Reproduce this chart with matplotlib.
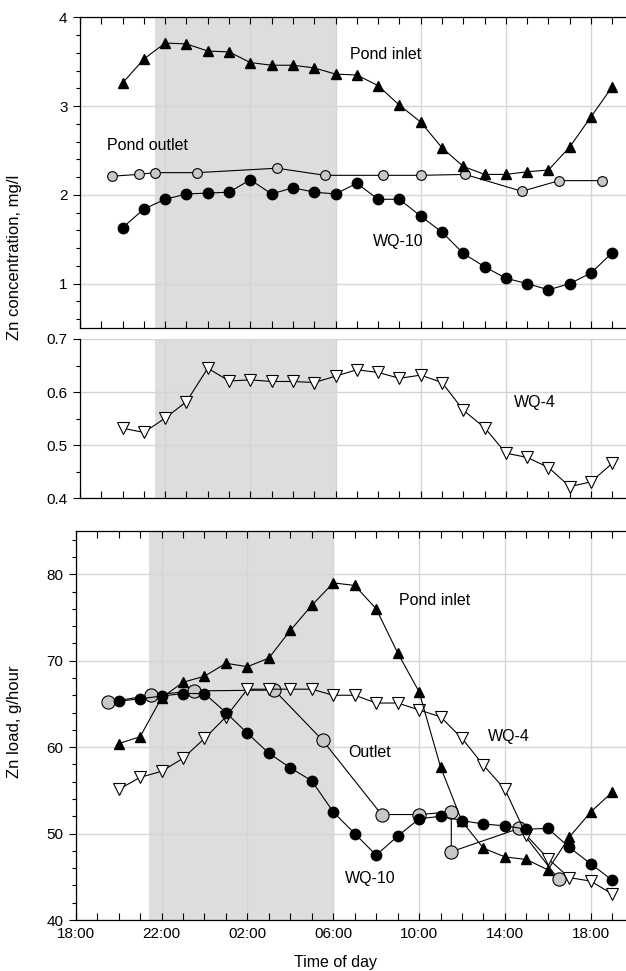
import matplotlib.pyplot as plt
from matplotlib.ticker import MultipleLocator, FixedLocator

plt.rcParams['font.family'] = ['Liberation Sans', 'DejaVu Sans']

# sampling times (clock time, the series runs from evening to the next evening)
hourly_times = ['20:00', '21:00', '22:00', '23:00', '00:00', '01:00', '02:00', '03:00',
                '04:00', '05:00', '06:00', '07:00', '08:00', '09:00', '10:00', '11:00',
                '12:00', '13:00', '14:00', '15:00', '16:00', '17:00', '18:00', '19:00']

# Zn concentration, mg/l
inlet_conc = [3.26, 3.53, 3.71, 3.70, 3.62, 3.61, 3.49, 3.46, 3.46, 3.43, 3.36, 3.35,
              3.23, 3.01, 2.82, 2.53, 2.32, 2.23, 2.23, 2.26, 2.28, 2.54, 2.88, 3.22]
wq10_conc = [1.63, 1.84, 1.95, 2.01, 2.02, 2.03, 2.17, 2.01, 2.08, 2.03, 2.01, 2.13,
             1.95, 1.95, 1.76, 1.58, 1.34, 1.19, 1.06, 1.00, 0.93, 1.00, 1.12, 1.35]
outlet_conc_times = ['19:30', '20:45', '21:30', '23:30', '03:15', '05:30',
                     '08:15', '10:00', '12:05', '14:45', '16:30', '18:30']
outlet_conc = [2.21, 2.23, 2.25, 2.25, 2.30, 2.22, 2.22, 2.22, 2.23, 2.04, 2.16, 2.16]
wq4_conc = [0.532, 0.524, 0.551, 0.582, 0.645, 0.621, 0.623, 0.620, 0.620, 0.618, 0.630, 0.642,
            0.637, 0.626, 0.632, 0.618, 0.566, 0.533, 0.485, 0.477, 0.458, 0.422, 0.431, 0.466]

# Zn load, g/hour
inlet_load = [60.4, 61.2, 65.7, 67.5, 68.2, 69.7, 69.3, 70.3, 73.5, 76.4, 79.0, 78.7,
              76.0, 70.9, 66.4, 57.7, 51.4, 48.3, 47.3, 47.0, 45.8, 49.6, 52.5, 54.8]
wq10_load = [65.3, 65.6, 65.9, 66.2, 66.2, 64.0, 61.6, 59.3, 57.6, 56.1, 52.5, 50.0,
             47.5, 49.7, 51.7, 52.0, 51.5, 51.1, 50.9, 50.5, 50.6, 48.4, 46.5, 44.6]
wq4_load = [55.1, 56.5, 57.2, 58.7, 61.0, 63.5, 66.7, 66.7, 66.7, 66.7, 66.0, 66.0,
            65.1, 65.1, 64.3, 63.5, 61.0, 57.9, 55.1, 49.8, 47.1, 44.9, 44.5, 43.0]
outlet_load_times = ['19:30', '21:30', '23:30', '03:15', '05:30', '08:15',
                     '10:00', '11:30', '11:30', '14:40', '16:30']
outlet_load = [65.2, 66.0, 66.5, 66.6, 60.8, 52.2, 52.2, 52.5, 47.9, 50.6, 44.7]

tick_labels = ['18:00', '22:00', '02:00', '06:00', '10:00', '14:00', '18:00']
night = ['21:30', '06:00']


def to_hours(times):
    # hours after 18:00 of the first day
    out = []
    prev = -1
    for t in times:
        hh, mm = t.split(':')
        h = int(hh) + int(mm) / 60 - 18
        if h < 0:
            h += 24
        while h < prev:
            h += 24
        out.append(h)
        prev = h
    return out


xh = to_hours(hourly_times)
x_out_c = to_hours(outlet_conc_times)
x_out_l = to_hours(outlet_load_times)
night_h = to_hours(night)

fig = plt.figure(figsize=(6.26, 9.71), dpi=100)
W, H = 626, 971
ax1 = fig.add_axes([80 / W, 1 - 328 / H, 546 / W, 310.7 / H])
ax2 = fig.add_axes([80 / W, 1 - 498.3 / H, 546 / W, 159.3 / H])
ax3 = fig.add_axes([75.7 / W, 1 - 920 / H, 550.3 / W, 389 / H])

grid_c = '#d5d5d5'
shade_c = '#dcdddf'

for ax in (ax1, ax2, ax3):
    ax.set_xlim(0, 25.64)
    ax.xaxis.set_major_locator(FixedLocator([0, 4, 8, 12, 16, 20, 24]))
    ax.xaxis.set_minor_locator(MultipleLocator(1))
    ax.spines['right'].set_visible(False)
    ax.set_axisbelow(True)
    ax.grid(which='major', color=grid_c, lw=1.0)
    ax.tick_params(axis='x', which='both', direction='in', length=5, width=0.8,
                   top=True, labelbottom=False)
    ax.tick_params(axis='y', which='major', direction='out', length=5, width=0.8,
                   labelsize=11, pad=4)
    ax.tick_params(axis='y', which='minor', direction='out', length=3, width=0.8)
    for s in ax.spines.values():
        s.set_linewidth(0.9)

ax1.axvspan(night_h[0], night_h[1], color=shade_c, lw=0, zorder=0.1)
ax2.axvspan(night_h[0], night_h[1], color=shade_c, lw=0, zorder=0.1)
ax3.axvspan(night_h[0] - 0.1, night_h[1], color=shade_c, lw=0, zorder=0.1)

lw = 0.8
# top panel
ax1.plot(xh, inlet_conc, '-^', color='black', lw=lw, ms=7.5, zorder=5)
ax1.plot(x_out_c, outlet_conc, '-o', color='black', lw=lw, ms=7, mfc='#c8c8c8',
         mec='black', mew=0.8, zorder=4)
ax1.plot(xh, wq10_conc, '-o', color='black', lw=lw, ms=7.5, zorder=5)
ax1.set_ylim(0.5, 4)
ax1.yaxis.set_major_locator(FixedLocator([1, 2, 3, 4]))
ax1.yaxis.set_minor_locator(MultipleLocator(0.2))
ax1.text(12.7, 3.58, 'Pond inlet', fontsize=11.5, va='center')
ax1.text(1.27, 2.56, 'Pond outlet', fontsize=11.5, va='center')
ax1.text(13.75, 1.48, 'WQ-10', fontsize=11.5, va='center')

# middle panel
ax2.plot(xh, wq4_conc, '-v', color='black', lw=lw, ms=8, mfc='white', mec='black',
         mew=0.8, zorder=5)
ax2.set_ylim(0.4, 0.7)
ax2.spines['top'].set_visible(False)
ax2.tick_params(axis='x', which='both', top=False)
ax2.yaxis.set_major_locator(FixedLocator([0.4, 0.5, 0.6, 0.7]))
ax2.yaxis.set_minor_locator(MultipleLocator(0.05))
ax2.yaxis.set_major_formatter(plt.FuncFormatter(lambda v, p: f'{v:.1f}'))
ax2.text(20.4, 0.581, 'WQ-4', fontsize=11.5, va='center')

# bottom panel
ax3.plot(x_out_l, outlet_load, '-o', color='black', lw=lw, ms=9.5, mfc='#c8c8c8',
         mec='black', mew=0.8, zorder=3)
ax3.plot(xh, wq4_load, '-v', color='black', lw=lw, ms=8, mfc='white', mec='black',
         mew=0.8, zorder=4)
ax3.plot(xh, inlet_load, '-^', color='black', lw=lw, ms=7.5, zorder=5)
ax3.plot(xh, wq10_load, '-o', color='black', lw=lw, ms=7.5, zorder=6)
ax3.set_ylim(40, 85)
ax3.yaxis.set_major_locator(FixedLocator([40, 50, 60, 70, 80]))
ax3.yaxis.set_minor_locator(MultipleLocator(2))
ax3.tick_params(axis='x', which='major', labelbottom=True, labelsize=11, pad=5)
ax3.set_xticklabels(tick_labels)
ax3.text(15.07, 77.0, 'Pond inlet', fontsize=11.5, va='center')
ax3.text(19.2, 61.2, 'WQ-4', fontsize=11.5, va='center')
ax3.text(12.7, 59.4, 'Outlet', fontsize=11.5, va='center')
ax3.text(12.55, 44.8, 'WQ-10', fontsize=11.5, va='center')

narrow = ['Liberation Sans Narrow', 'Liberation Sans', 'DejaVu Sans']
fig.text(15 / W, 1 - 257 / H, 'Zn concentration, mg/l', rotation=90, ha='center',
         va='center', fontsize=12, family=narrow)
fig.text(15 / W, 1 - 722 / H, 'Zn load, g/hour', rotation=90, ha='center',
         va='center', fontsize=12, family=narrow)
fig.text(336 / W, 1 - 962 / H, 'Time of day', ha='center', va='center', fontsize=11.5)

fig.savefig('out.png', dpi=100)
